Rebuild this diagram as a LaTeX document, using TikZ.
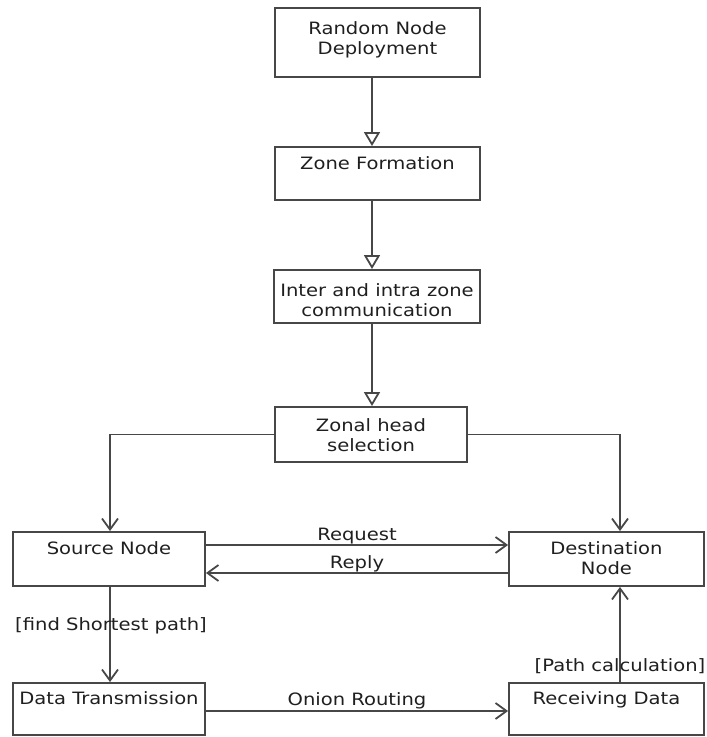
\documentclass[tikz,border=0pt]{standalone}
\usepackage{fontspec}
\newfontfamily\dv[FakeStretch=1.15]{DejaVu Sans}
\usetikzlibrary{arrows.meta}
\definecolor{ln}{gray}{0.28}
\definecolor{tx}{gray}{0.12}
\tikzset{
  x=1pt, y=-1pt,
  box/.style={draw=ln, line width=1.9pt, minimum width=#1, inner sep=0pt},
  btxt/.style={anchor=north, align=center, inner sep=0pt, text=tx, font=\dv\fontsize{17}{20}\selectfont},
  lbl/.style={inner sep=0pt, text=tx, font=\dv\fontsize{17}{20}\selectfont},
  con/.style={draw=ln, line width=1.8pt},
  tri/.style={con, -{Triangle[open, length=14pt, width=16pt, line width=1.8pt]}},
  vee/.style={con, -{Straight Barb[length=11pt, width=16pt, line width=1.8pt]}}
}
\begin{document}
\begin{tikzpicture}
\useasboundingbox (0,0) rectangle (707,737);
\coordinate (ax) at (372,0);
\coordinate (lx) at (110,0);
\coordinate (rx) at (620,0);
% boxes
\node[box=205pt, minimum height=69pt] (rnd) at (377.5,42.5) {};
\node[box=205pt, minimum height=53pt] (zf)  at (377.5,173.5) {};
\node[box=206pt, minimum height=53pt] (iz)  at (377,296.5) {};
\node[box=192pt, minimum height=55pt] (zh)  at (371,434.5) {};
\node[box=192pt, minimum height=54pt] (sn)  at (109,559) {};
\node[box=195pt, minimum height=54pt] (dn)  at (606.5,559) {};
\node[box=192pt, minimum height=52pt] (dt)  at (109,709) {};
\node[box=195pt, minimum height=52pt] (rd)  at (606.5,709) {};
% box texts
\node[btxt] (rndt) at ([yshift=-14.5pt]rnd.north) {Random Node\\Deployment};
\node[btxt] (zft)  at ([yshift=-10.5pt]zf.north) {Zone Formation};
\node[btxt] (izt)  at ([yshift=-14pt]iz.north) {Inter and intra zone\\communication};
\node[btxt] (zht)  at ([yshift=-12pt]zh.north) {Zonal head\\selection};
\node[btxt] (snt)  at ([yshift=-10pt]sn.north) {Source Node};
\node[btxt] (dnt)  at ([yshift=-10pt]dn.north) {Destination\\Node};
\node[btxt] (dtt)  at ([yshift=-9pt]dt.north) {Data Transmission};
\node[btxt] (rdt)  at ([yshift=-9pt]rd.north) {Receiving Data};
% vertical chain
\draw[tri] (rnd.south -| ax) -- (zf.north -| ax);
\draw[tri] (zf.south -| ax) -- (iz.north -| ax);
\draw[tri] (iz.south -| ax) -- (zh.north -| ax);
% zonal head branches
\draw[vee] (zh.west) -| (sn.north -| lx);
\draw[vee] (zh.east) -| (dn.north -| rx);
% request / reply
\draw[vee] ([yshift=14pt]sn.east) -- ([yshift=14pt]dn.west) node[lbl, pos=0.5, above=0pt] (req) {Request};
\draw[vee] ([yshift=-14pt]dn.west) -- ([yshift=-14pt]sn.east) node[lbl, pos=0.5, above=0pt] (rep) {Reply};
% lower part
\draw[vee] (sn.south -| lx) -- (dt.north -| lx);
\node[lbl] (fsp) at (111,626) {[find Shortest path]};
\draw[vee] ([yshift=-2pt]dt.east) -- ([yshift=-2pt]rd.west) node[lbl, pos=0.5, above=1pt] (onr) {Onion Routing};
\draw[vee] (rd.north -| rx) -- (dn.south -| rx);
\node[lbl] (pc) at (620,666) {[Path calculation]};
\end{tikzpicture}
\end{document}
